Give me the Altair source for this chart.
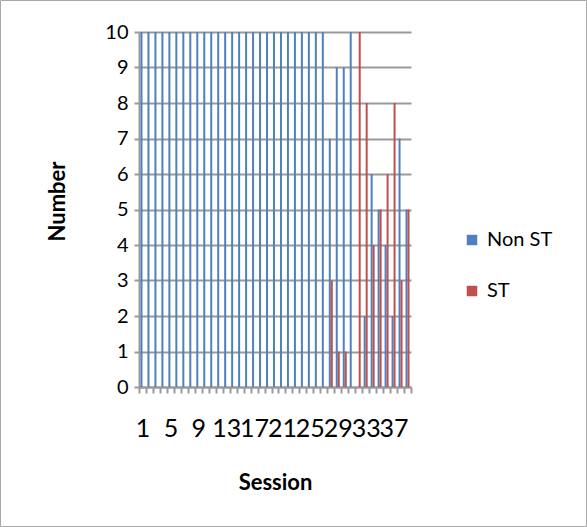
import altair as alt
import pandas as pd

# Per-session counts for the two groups
sessions = [1, 2, 3, 4, 5, 6, 7, 8, 9, 10, 11, 12, 13, 14, 15, 16, 17, 18, 19, 20,
            21, 22, 23, 24, 25, 26, 27, 28, 29, 30, 31, 32, 33, 34, 35, 36, 37, 38, 39]
non_st = [10, 10, 10, 10, 10, 10, 10, 10, 10, 10, 10, 10, 10, 10, 10, 10, 10, 10, 10, 10,
          10, 10, 10, 10, 10, 10, 10, 7, 9, 9, 10, 0, 2, 6, 5, 4, 2, 7, 5]
st = [0, 0, 0, 0, 0, 0, 0, 0, 0, 0, 0, 0, 0, 0, 0, 0, 0, 0, 0, 0,
      0, 0, 0, 0, 0, 0, 0, 3, 1, 1, 0, 10, 8, 4, 5, 6, 8, 3, 5]
series_names = ["Non ST", "ST"]
series_colors = ["#4F81BD", "#C0504D"]

rows = []
for s, a, b in zip(sessions, non_st, st):
    rows.append({"Session": s, "Group": series_names[0], "Number": a})
    rows.append({"Session": s, "Group": series_names[1], "Number": b})
df = pd.DataFrame(rows)

FONT = "Lato"
GRID = "#9A9A9A"

bars = alt.Chart(df).mark_bar(clip=False).encode(
    x=alt.X(
        "Session:O",
        sort=sessions,
        scale=alt.Scale(paddingInner=0, paddingOuter=0),
        axis=alt.Axis(
            title="Session",
            titleFont=FONT,
            titleFontSize=22,
            titleFontWeight="bold",
            titleY=95,
            titleBaseline="middle",
            labelFont=FONT,
            labelFontSize=25,
            labelColor="black",
            labelAngle=0,
            labelPadding=23,
            labelExpr="(datum.value - 1) % 4 == 0 ? datum.label : ''",
            tickBand="extent",
            tickSize=6,
            tickColor=GRID,
            tickWidth=2,
            domainColor=GRID,
            domainWidth=2,
            grid=False,
        ),
    ),
    xOffset=alt.XOffset(
        "Group:N",
        sort=series_names,
        scale=alt.Scale(paddingInner=0, paddingOuter=0.74),
    ),
    y=alt.Y(
        "Number:Q",
        scale=alt.Scale(domain=[0, 10], nice=False),
        axis=alt.Axis(
            title="Number",
            titleFont=FONT,
            titleFontSize=22,
            titleFontWeight="bold",
            titleAngle=-90,
            titleX=-82,
            titleY=169,
            titleBaseline="middle",
            titleAlign="center",
            values=[0, 1, 2, 3, 4, 5, 6, 7, 8, 9, 10],
            labelFont=FONT,
            labelFontSize=20,
            labelColor="black",
            labelPadding=6,
            tickSize=5,
            tickColor=GRID,
            tickWidth=2,
            domainColor=GRID,
            domainWidth=2,
            grid=True,
            gridColor=GRID,
            gridWidth=2,
        ),
    ),
    color=alt.Color(
        "Group:N",
        sort=series_names,
        scale=alt.Scale(domain=series_names, range=series_colors),
        legend=alt.Legend(
            title=None,
            orient="none",
            legendX=323,
            legendY=198,
            symbolType="square",
            symbolSize=110,
            symbolStrokeWidth=0,
            labelFont=FONT,
            labelFontSize=20,
            labelColor="black",
            labelOffset=5,
            rowPadding=31,
        ),
    ),
)

# Thin outline around the whole chart area
frame = alt.Chart(pd.DataFrame({"k": [0]})).mark_rect(
    fill=None, stroke="#A8A8A8", strokeWidth=1, clip=False
).encode(
    x=alt.value(-138.5), x2=alt.value(447.5),
    y=alt.value(-31.5), y2=alt.value(494.5),
)

chart = alt.layer(bars, frame).properties(
    width=272,
    height=355,
    padding={"left": 139, "top": 32, "right": 176, "bottom": 140},
    autosize=alt.AutoSizeParams(type="none"),
    background="white",
).configure_view(stroke=None)

chart.save("out.html", embed_options={"renderer": "svg", "actions": False})
